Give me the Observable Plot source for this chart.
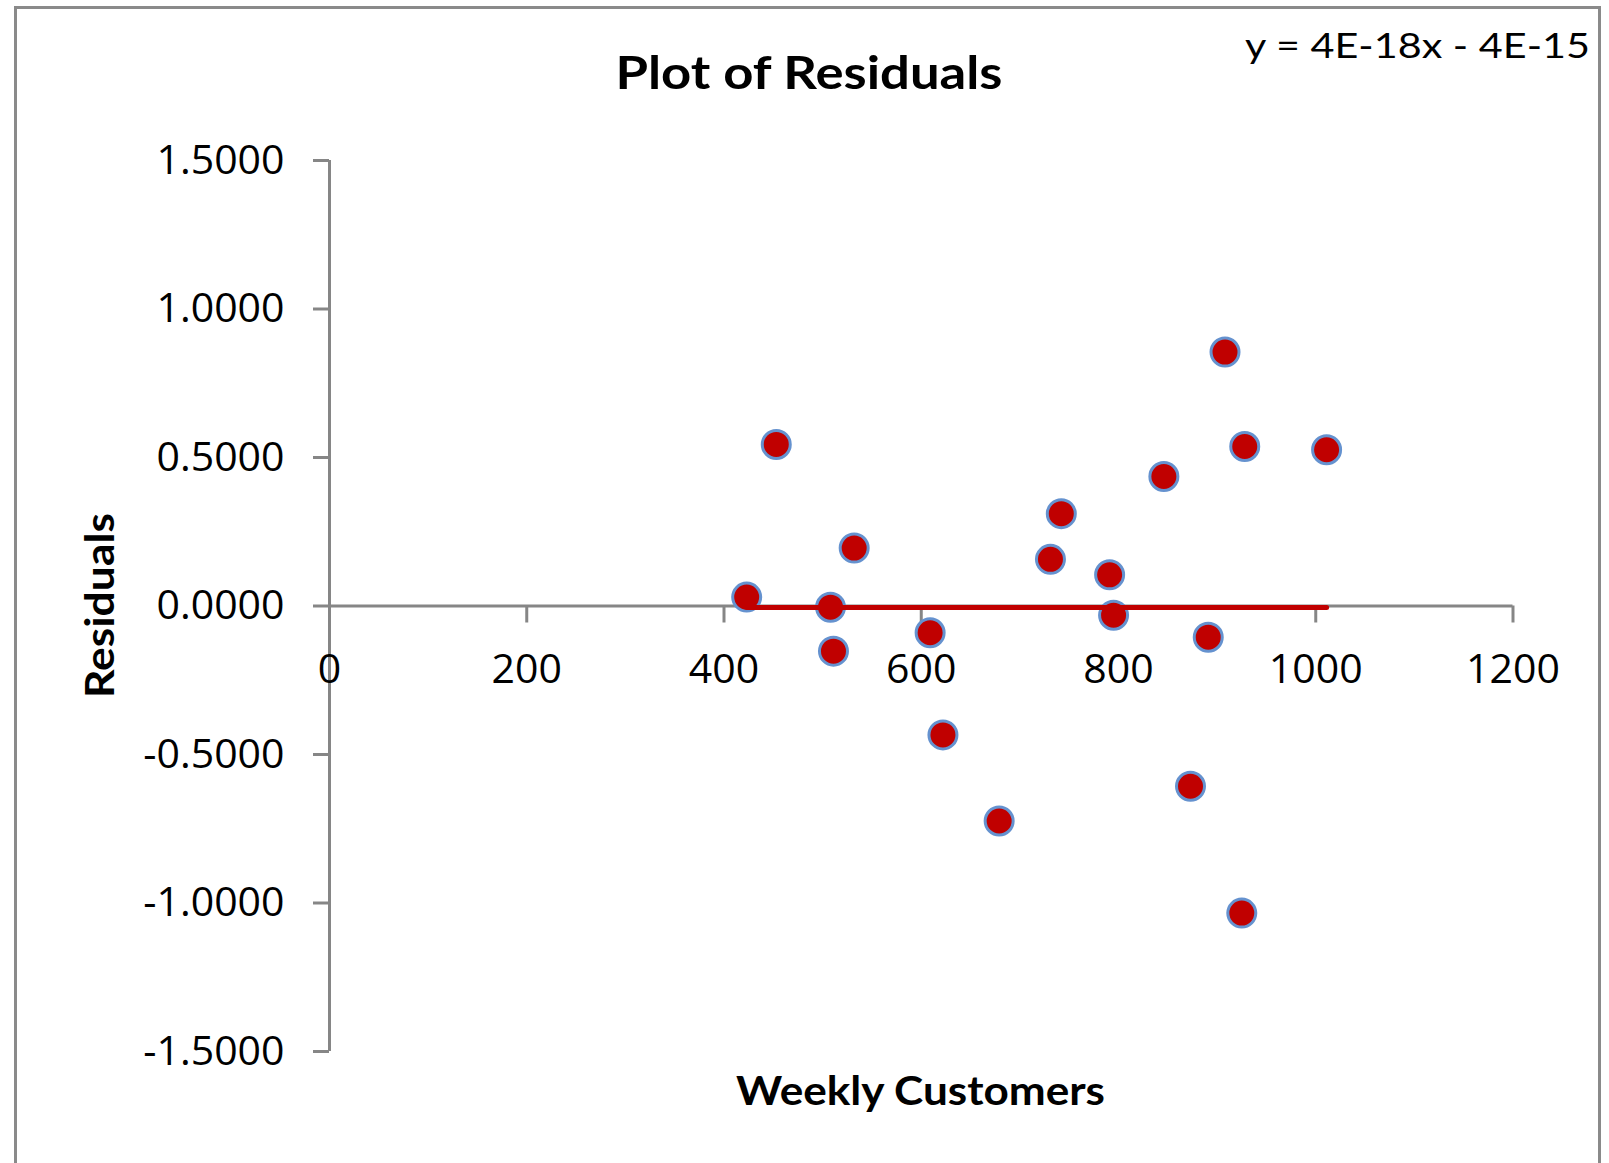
<!DOCTYPE html>
<html>
<head>
<meta charset="utf-8">
<script src="https://cdn.jsdelivr.net/npm/d3@7"></script>
<script src="https://cdn.jsdelivr.net/npm/@observablehq/plot@0.6"></script>
<style>
  body { margin: 0; background: #fff; }
  #wrap { position: relative; width: 1609px; height: 1163px; overflow: hidden; background: #fff; }
  #frame { position: absolute; left: 14px; top: 6px; width: 1587px; height: 1300px; border: 3px solid #8a8a8a; box-sizing: border-box; }
  #wrap svg { position: absolute; left: 0; top: 0; }
</style>
</head>
<body>
<div id="wrap"><div id="frame"></div></div>
<script>
// ---- data ----
const weeklyCustomers = [423, 453, 508, 511, 532, 609, 622, 679, 731, 742, 791, 795, 846, 873, 891, 908, 925, 928, 1011];
const residuals = [0.030, 0.544, -0.004, -0.152, 0.195, -0.090, -0.434, -0.724, 0.157, 0.311, 0.105, -0.031, 0.436, -0.607, -0.105, 0.855, -1.034, 0.537, 0.526];
const xTicks = [0, 200, 400, 600, 800, 1000, 1200];
const yTicks = [-1.5, -1.0, -0.5, 0, 0.5, 1.0, 1.5];
const trendSlope = 4e-18;
const trendIntercept = -4e-15;
const chartTitle = "Plot of Residuals";
const xTitle = "Weekly Customers";
const yTitle = "Residuals";
const equationText = "y = 4E-18x - 4E-15";

// ---- layout ----
const W = 1609, H = 1163;
const mL = 329, mR = 96.5, mT = 160, mB = 112;
const xDomain = [0, 1200];
const yDomain = [-1.5, 1.5];
const axisGray = "#868686";
const plotH = H - mT - mB;
const xAxisShift = -plotH * (0 - yDomain[0]) / (yDomain[1] - yDomain[0]);

const points = weeklyCustomers.map((x, i) => ({x, y: residuals[i]}));
const trend = [d3.min(weeklyCustomers), d3.max(weeklyCustomers)].map(x => ({x, y: trendSlope * x + trendIntercept}));

const chart = Plot.plot({
  width: W, height: H,
  marginLeft: mL, marginRight: mR, marginTop: mT, marginBottom: mB,
  style: {fontFamily: "'Open Sans', sans-serif", fontSize: "41px", color: "#000", background: "transparent", overflow: "visible"},
  x: {domain: xDomain},
  y: {domain: yDomain},
  marks: [
    Plot.ruleX([0], {stroke: axisGray, strokeWidth: 3}),
    Plot.ruleY([0], {stroke: axisGray, strokeWidth: 3}),
    Plot.axisY(yTicks, {tickSize: 16, tickPadding: 29, stroke: axisGray, strokeWidth: 3, fill: "#000", tickFormat: d => d.toFixed(4), label: null}),
    Plot.axisX(xTicks, {anchor: "bottom", dy: xAxisShift, tickSize: 17, tickPadding: 31, stroke: axisGray, strokeWidth: 3, fill: "#000", tickFormat: d => String(d), label: null}),
    Plot.dot(points, {x: "x", y: "y", r: 14, fill: "#C00000", stroke: "#6592cf", strokeWidth: 3}),
    Plot.line(trend, {x: "x", y: "y", stroke: "#C00000", strokeWidth: 5, strokeLinecap: "round", dy: 1.5})
  ]
});

const svg = d3.select(chart);
function addText(str, opts) {
  const t = svg.append("text")
    .attr("x", opts.x).attr("y", opts.y)
    .attr("text-anchor", opts.anchor || "middle")
    .attr("font-family", opts.family || "Lato, 'Open Sans', sans-serif")
    .attr("font-weight", opts.weight || "bold")
    .attr("font-size", opts.size)
    .attr("fill", "#000")
    .text(str);
  if (opts.length) t.attr("textLength", opts.length).attr("lengthAdjust", "spacingAndGlyphs");
  if (opts.rotate) t.attr("transform", `rotate(${opts.rotate},${opts.x},${opts.y})`);
  return t;
}
addText(chartTitle, {x: 809, y: 89, size: 45, length: 387});
addText(xTitle, {x: 920.5, y: 1105, size: 40, length: 369});
addText(yTitle, {x: 114, y: 605.5, size: 40, length: 185, rotate: -90});
addText(equationText, {x: 1245, y: 58, size: 35, weight: "normal", anchor: "start", length: 345});

document.getElementById("wrap").appendChild(chart);
</script>
</body>
</html>
